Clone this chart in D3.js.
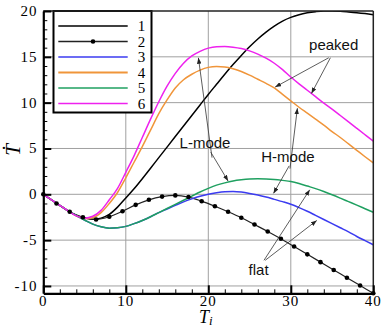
<!DOCTYPE html>
<html>
<head>
<meta charset="utf-8">
<script src="https://cdn.jsdelivr.net/npm/d3@7"></script>
<style>
  body { margin: 0; background: #fff; }
  svg { display: block; }
</style>
</head>
<body>
<svg id="chart" width="381" height="326"></svg>
<script>
// sample positions (Ti) for the smooth curves
const xs = d3.range(0, 41);

const curve1 = [0, -0.6, -1.2, -1.8, -2.3, -2.6, -2.72, -2.6, -2.2, -1.4, -0.4, 0.6, 1.7, 2.85, 4.0, 5.15, 6.3, 7.45, 8.6, 9.75, 10.9,
  12.0, 13.1, 14.15, 15.15, 16.1, 16.95, 17.7, 18.35, 18.9, 19.3, 19.6, 19.8, 19.93, 20.0, 20.0, 19.97, 19.9, 19.82, 19.72, 19.6];
const curve3 = [0, -0.6, -1.2, -1.8, -2.32, -2.8, -3.25, -3.55, -3.7, -3.65, -3.5, -3.2, -2.85, -2.45, -2.0, -1.6, -1.2, -0.82, -0.5, -0.22, 0.0,
  0.16, 0.27, 0.3, 0.24, 0.1, -0.08, -0.3, -0.55, -0.8, -1.08, -1.45, -1.85, -2.3, -2.75, -3.2, -3.65, -4.1, -4.6, -5.05, -5.5];
const curve4 = [0, -0.6, -1.2, -1.8, -2.35, -2.65, -2.55, -2.0, -1.0, 0.2, 1.8, 3.5, 5.2, 7.0, 8.8, 10.3, 11.6, 12.5, 13.1, 13.55, 13.85,
  13.95, 13.9, 13.7, 13.4, 13.0, 12.55, 12.1, 11.6, 10.9, 10.2, 9.5, 8.85, 8.2, 7.55, 6.85, 6.2, 5.5, 4.8, 4.1, 3.42];
const curve5 = [0, -0.6, -1.2, -1.8, -2.32, -2.8, -3.25, -3.55, -3.7, -3.65, -3.5, -3.2, -2.85, -2.45, -2.0, -1.55, -1.1, -0.65, -0.2, 0.25, 0.65,
  1.0, 1.25, 1.45, 1.58, 1.67, 1.7, 1.68, 1.62, 1.52, 1.4, 1.18, 0.9, 0.62, 0.3, -0.05, -0.42, -0.8, -1.18, -1.57, -1.96];
const curve6 = [0, -0.6, -1.2, -1.8, -2.35, -2.6, -2.4, -1.75, -0.6, 0.65, 2.4, 4.2, 6.2, 8.2, 10.1, 11.8, 13.2, 14.3, 15.1, 15.6, 15.95,
  16.1, 16.12, 16.05, 15.9, 15.65, 15.3, 14.85, 14.3, 13.6, 12.8, 12.05, 11.35, 10.65, 9.95, 9.3, 8.6, 7.9, 7.2, 6.5, 5.8];

// curve 2 is drawn with markers at its sample points
const xDots = d3.range(0, 26).map(i => i * 1.6);
const curve2 = [0, -1.0, -1.9, -2.5, -2.75, -2.45, -1.85, -1.15, -0.6, -0.25, -0.12, -0.3, -0.75, -1.3, -1.9, -2.55, -3.3,
  -4.05, -4.85, -5.7, -6.55, -7.4, -8.25, -9.1, -9.95, -10.8];

const seriesNames = ['1', '2', '3', '4', '5', '6'];
const seriesColors = ['#000000', '#222222', '#3b3bf0', '#f0953a', '#1fa060', '#ee22ee'];

const xMajor = [0, 10, 20, 30, 40];
const yMajor = [-10, -5, 0, 5, 10, 15, 20];

// annotations, in data units
const labels = [
  {text: 'peaked', x: 35.2, y: 15.7},
  {text: 'L-mode', x: 19.6, y: 5.0},
  {text: 'H-mode', x: 29.65, y: 3.5},
  {text: 'flat', x: 26.1, y: -8.75}
];
const arrows = [
  [34.6, 14.9, 28.1, 11.7],
  [34.8, 14.9, 32.5, 11.0],
  [20.45, 4.0, 18.8, 14.9],
  [20.3, 4.6, 22.4, 1.45],
  [29.9, 2.8, 30.8, 9.4],
  [29.8, 3.1, 27.9, 0.1],
  [26.75, -7.2, 32.3, 0.5],
  [26.9, -7.2, 33.15, -2.85]
];

const pL = 43.3, pR = 373.3, pT = 11, pB = 293.3;
const x = d3.scaleLinear().domain([0, 40]).range([pL, pR]);
const y = d3.scaleLinear().domain([-10.8, 20]).range([pB, pT]);

const svg = d3.select('#chart');
const serif = '"Liberation Serif", "Times New Roman", serif';
const sans = '"Liberation Sans", Arial, sans-serif';

const defs = svg.append('defs');
defs.append('clipPath').attr('id', 'clip')
  .append('rect').attr('x', pL).attr('y', pT).attr('width', pR - pL).attr('height', pB - pT);

defs.append('marker')
    .attr('id', 'head')
    .attr('viewBox', '0 -3 8 6')
    .attr('refX', 8).attr('refY', 0)
    .attr('markerWidth', 6).attr('markerHeight', 4.5)
    .attr('markerUnits', 'userSpaceOnUse')
    .attr('orient', 'auto')
  .append('path')
    .attr('d', 'M0,-3L8,0L0,3Z')
    .attr('fill', '#222');

// grid
const grid = svg.append('g').attr('stroke', '#a0a0a0').attr('stroke-width', 1);
grid.selectAll('.gx').data([10, 20, 30]).join('line').attr('class', 'gx')
  .attr('x1', d => x(d)).attr('x2', d => x(d)).attr('y1', pT).attr('y2', pB);
grid.selectAll('.gy').data([-10, -5, 0, 5, 10, 15]).join('line').attr('class', 'gy')
  .attr('y1', d => y(d)).attr('y2', d => y(d)).attr('x1', pL).attr('x2', pR);

// curves
const line = d3.line().x(d => x(d[0])).y(d => y(d[1])).curve(d3.curveMonotoneX);
const plot = svg.append('g').attr('clip-path', 'url(#clip)').attr('fill', 'none');
const sets = [
  xs.map((v, i) => [v, curve1[i]]),
  xDots.map((v, i) => [v, curve2[i]]),
  xs.map((v, i) => [v, curve3[i]]),
  xs.map((v, i) => [v, curve4[i]]),
  xs.map((v, i) => [v, curve5[i]]),
  xs.map((v, i) => [v, curve6[i]])
];
sets.forEach((s, i) => {
  plot.append('path')
    .datum(s)
    .attr('d', line)
    .attr('stroke', seriesColors[i])
    .attr('stroke-width', i === 1 ? 1.2 : 1.5);
});
svg.append('g').selectAll('circle').data(sets[1]).join('circle')
  .attr('cx', d => x(d[0])).attr('cy', d => y(d[1])).attr('r', 2.3)
  .attr('fill', '#000');

// annotations
svg.append('g').selectAll('line').data(arrows).join('line')
  .attr('x1', d => x(d[0])).attr('y1', d => y(d[1]))
  .attr('x2', d => x(d[2])).attr('y2', d => y(d[3]))
  .attr('stroke', '#333').attr('stroke-width', 0.8)
  .attr('marker-end', 'url(#head)');

svg.append('g').selectAll('text').data(labels).join('text')
  .attr('x', d => x(d.x)).attr('y', d => y(d.y))
  .attr('text-anchor', 'middle')
  .style('font-family', sans).style('font-size', '15px')
  .attr('fill', '#111')
  .text(d => d.text);

// legend
const lg = svg.append('g');
lg.append('rect').attr('x', 53.5).attr('y', 11).attr('width', 98).attr('height', 101.5)
  .attr('fill', '#fff').attr('stroke', '#000').attr('stroke-width', 2);
const rowY = i => 26 + i * 15.5;
seriesNames.forEach((n, i) => {
  lg.append('line')
    .attr('x1', 58.3).attr('x2', 127.7).attr('y1', rowY(i)).attr('y2', rowY(i))
    .attr('stroke', seriesColors[i]).attr('stroke-width', i === 3 ? 2 : 1.5);
  if (i === 1) lg.append('circle').attr('cx', 93).attr('cy', rowY(i)).attr('r', 2.3).attr('fill', '#000');
  lg.append('text')
    .attr('x', 141.5).attr('y', rowY(i)).attr('dy', '0.35em')
    .attr('text-anchor', 'middle')
    .style('font-family', serif).style('font-size', '15px')
    .text(n);
});

// frame
svg.append('line').attr('x1', pL).attr('x2', pR).attr('y1', pT).attr('y2', pT)
  .attr('stroke', '#222').attr('stroke-width', 1.5);
svg.append('line').attr('x1', pR).attr('x2', pR).attr('y1', pT).attr('y2', pB)
  .attr('stroke', '#222').attr('stroke-width', 1.5);

// axes with inward ticks
const xAxis = svg.append('g').attr('transform', `translate(0,${pB})`)
  .call(d3.axisBottom(x).tickValues(d3.range(0, 41, 2)).tickSize(-4).tickSizeOuter(0).tickFormat(''));
xAxis.selectAll('.tick line').filter(d => d % 10 === 0).attr('y2', -8).attr('stroke-width', 2);
const yAxis = svg.append('g').attr('transform', `translate(${pL},0)`)
  .call(d3.axisLeft(y).tickValues(d3.range(-10, 21, 1)).tickSize(-4).tickSizeOuter(0).tickFormat(''));
yAxis.selectAll('.tick line').filter(d => d % 5 === 0).attr('x2', 8).attr('stroke-width', 2);
[xAxis, yAxis].forEach(a => {
  a.select('.domain').attr('stroke', '#000').attr('stroke-width', 2.2);
  a.selectAll('.tick line').attr('stroke', '#000');
});

// tick labels
svg.append('g').selectAll('text').data(xMajor).join('text')
  .attr('x', d => x(d)).attr('y', 306)
  .attr('text-anchor', 'middle')
  .style('font-family', serif).style('font-size', '15px').style('letter-spacing', '1px')
  .text(d => d);
svg.append('g').selectAll('text').data(yMajor).join('text')
  .attr('x', 37.5).attr('y', d => y(d)).attr('dy', '0.33em')
  .attr('text-anchor', 'end')
  .style('font-family', serif).style('font-size', '15px').style('letter-spacing', '1px')
  .text(d => d);

// axis titles
svg.append('text')
  .attr('transform', 'translate(20,150) rotate(-90)')
  .attr('text-anchor', 'middle')
  .style('font-family', serif).style('font-size', '21px').style('font-style', 'italic')
  .text('\u1E6A');
const xt = svg.append('text')
  .attr('x', 199).attr('y', 323)
  .style('font-family', serif).style('font-size', '18px').style('font-style', 'italic');
xt.append('tspan').text('T');
xt.append('tspan').attr('dy', 1.5).style('font-size', '13px').text('i');
</script>
</body>
</html>
